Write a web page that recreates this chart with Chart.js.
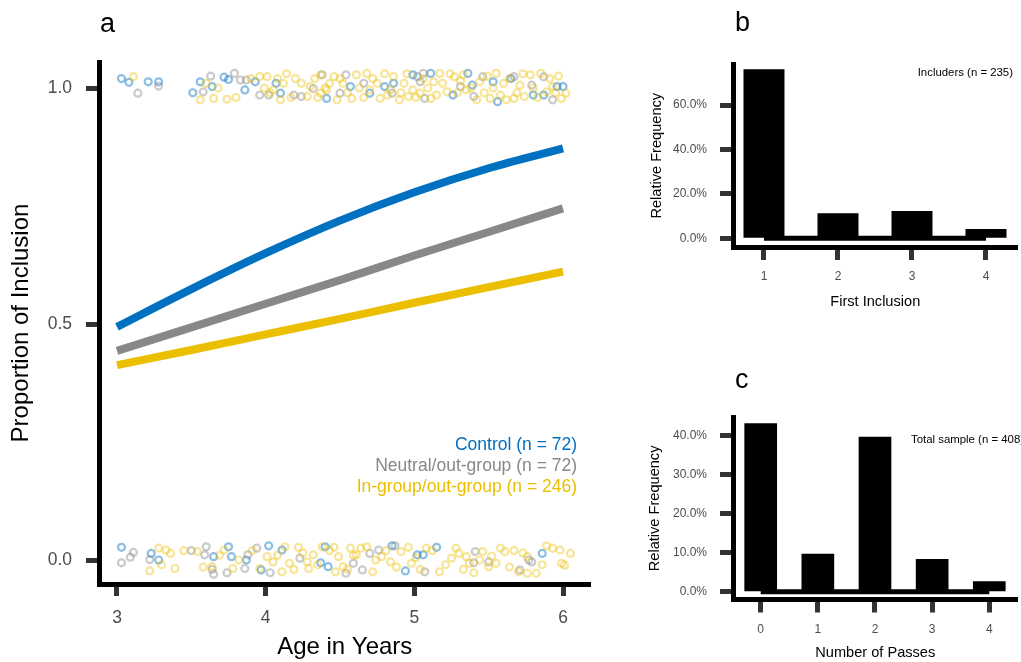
<!DOCTYPE html>
<html>
<head>
<meta charset="utf-8">
<script src="https://cdn.jsdelivr.net/npm/chart.js@4.4.0/dist/chart.umd.min.js"></script>
<style>
html, body { margin: 0; padding: 0; background: #fff; width: 1021px; height: 662px; overflow: hidden; }
canvas { position: absolute; }
</style>
</head>
<body>
<canvas id="panelA" width="610" height="662" style="left:0px;top:0px"></canvas>
<canvas id="panelB" width="391" height="315" style="left:630px;top:0px"></canvas>
<canvas id="panelC" width="391" height="307" style="left:630px;top:355px"></canvas>
<script>
// ---- panel a: fitted curves ----
const ages = [3, 3.5, 4, 4.5, 5, 5.5, 6];
const ctrlFit = [0.494, 0.574, 0.650, 0.719, 0.779, 0.830, 0.872];
const neutFit = [0.443, 0.493, 0.543, 0.593, 0.645, 0.695, 0.745];
const ingrFit = [0.413, 0.445, 0.478, 0.511, 0.545, 0.578, 0.611];

const ageTicks = [3, 4, 5, 6];
const propTicks = [0, 0.5, 1];
const groupNames = ["Control (n = 72)", "Neutral/out-group (n = 72)", "In-group/out-group (n = 246)"];

// raw responses (jittered), [age, value]
const ctrlDots = [
  [3.03,1.02],[3.08,1.012],[3.21,1.013],[3.28,1.013],[3.51,0.99],[3.56,1.013],[3.64,1.003],[3.72,1.023],
  [3.75,1.018],[3.86,0.996],[3.93,1.013],[4.07,1.01],[4.10,0.989],[4.41,0.978],[4.57,1.003],[4.70,0.989],
  [4.80,1.003],[4.86,1.01],[4.99,1.028],[5.11,1.031],[5.26,0.985],[5.36,1.031],[5.39,1.006],[5.53,1.013],
  [5.56,0.971],[5.65,1.02],[5.80,0.985],[5.87,0.985],[5.96,1.003],[6.00,1.003],
  [3.03,0.027],[3.23,0.014],[3.28,0.0],[3.65,0.007],[3.75,0.028],[3.77,0.007],[3.87,0.0],[3.97,-0.021],
  [4.02,0.03],[4.11,0.021],[4.37,-0.006],[4.40,0.028],[4.42,-0.014],[4.85,0.03],[4.94,-0.023],[5.02,0.011],
  [5.06,0.011],[5.15,0.027],[5.86,0.014]
];
const neutDots = [
  [3.14,0.989],[3.28,1.004],[3.58,0.992],[3.63,1.025],[3.79,1.031],[3.83,1.017],[3.87,1.017],[3.96,0.985],
  [4.02,0.985],[4.19,0.985],[4.24,0.982],[4.32,0.999],[4.38,1.028],[4.50,0.989],[4.54,1.028],[4.66,1.01],
  [4.85,0.989],[5.02,1.024],[5.04,1.013],[5.06,1.031],[5.07,0.978],[5.31,1.003],[5.40,0.982],[5.46,1.024],
  [5.67,1.024],[5.79,1.006],[5.87,1.024],[5.93,0.975],
  [3.03,-0.006],[3.09,0.006],[3.11,0.016],[3.22,0.001],[3.50,0.02],[3.59,0.011],[3.60,0.028],[3.64,-0.02],
  [3.65,-0.03],[3.74,-0.027],[3.86,-0.018],[3.88,0.011],[3.94,0.025],[4.03,-0.027],[4.23,0.004],[4.54,-0.028],
  [4.59,-0.007],[4.65,-0.021],[4.70,0.014],[4.76,0.021],[4.87,0.03],[5.07,-0.025],[5.40,-0.006],[5.41,0.018],
  [5.50,-0.004],[5.71,-0.021],[5.77,0.0],[5.79,-0.004]
];
const ingrDots = [
  [3.11,1.024],[3.56,0.975],[3.65,0.978],[3.74,0.976],[3.96,1.024],[4.01,1.024],[4.05,0.996],[4.10,0.975],
  [4.12,1.01],[4.20,1.02],[4.28,0.982],[4.30,1.003],[4.37,1.028],[4.37,0.989],[4.41,0.996],[4.46,1.024],
  [4.48,0.975],[4.52,1.01],[4.58,0.978],[4.61,1.028],[4.68,1.031],[4.70,0.996],[4.72,1.02],[4.77,0.978],
  [4.84,0.996],[4.86,1.024],[4.90,0.975],[4.96,0.982],[4.99,0.996],[5.04,0.989],[5.11,0.978],[5.13,1.013],
  [5.17,1.031],[5.22,0.992],[5.27,1.024],[5.33,1.028],[5.35,0.996],[5.42,0.975],[5.44,1.013],[5.51,0.978],
  [5.55,1.031],[5.60,1.01],[5.62,0.975],[5.67,0.978],[5.71,1.006],[5.74,0.982],[5.78,1.028],[5.85,1.031],
  [5.89,0.992],[5.93,1.003],[5.99,0.978],[6.02,0.989],
  [3.60,1.01],[3.68,1.0],[3.80,0.98],[3.90,1.02],[3.99,1.0],[4.03,0.99],[4.14,1.03],[4.17,0.98],
  [4.24,1.01],[4.33,1.02],[4.35,0.98],[4.43,1.01],[4.50,1.02],[4.55,0.99],[4.63,1.0],[4.66,0.98],
  [4.75,1.01],[4.80,1.03],[4.82,0.985],[4.93,1.01],[4.95,1.03],[5.01,0.98],[5.06,1.02],[5.09,1.0],
  [5.15,0.985],[5.19,1.01],[5.24,1.03],[5.29,0.99],[5.31,1.015],[5.38,1.0],[5.47,0.99],[5.49,1.025],
  [5.53,1.0],[5.58,0.985],[5.64,1.02],[5.69,0.99],[5.73,1.03],[5.80,1.0],[5.83,0.98],[5.91,1.02],
  [5.95,0.99],[5.97,1.025],[4.08,1.02],[4.40,1.0],[4.91,0.99],
  [3.22,-0.023],[3.28,0.025],[3.33,0.021],[3.36,0.014],[3.39,-0.018],[3.54,0.018],[3.64,-0.014],[3.72,0.021],
  [3.78,-0.018],[3.96,-0.018],[4.01,0.007],[4.05,-0.004],[4.11,-0.025],[4.13,0.028],[4.16,-0.007],[4.22,0.027],
  [4.28,-0.004],[4.29,-0.018],[4.32,0.011],[4.38,0.028],[4.46,0.027],[4.49,0.007],[4.52,-0.014],[4.57,0.025],
  [4.61,0.011],[4.68,0.028],[4.72,-0.025],[4.78,0.007],[4.84,-0.004],[4.91,0.018],[4.96,0.027],[4.98,-0.007],
  [5.08,0.025],[5.17,-0.025],[5.25,0.004],[5.30,0.014],[5.35,0.007],[5.37,-0.007],[5.40,-0.027],[5.46,0.018],
  [5.50,-0.014],[5.52,0.008],[5.55,-0.007],[5.61,0.018],[5.67,0.02],[5.70,-0.025],[5.76,-0.028],[5.76,0.007],
  [5.82,-0.028],[5.89,0.03],[5.98,0.021],[5.99,-0.007],[6.01,-0.011],[6.05,0.014],
  [3.30,-0.01],[3.45,0.02],[3.58,-0.015],[3.69,0.01],[3.82,0.0],[3.91,0.02],[4.08,0.01],[4.19,-0.02],
  [4.25,0.015],[4.35,-0.01],[4.43,0.02],[4.55,-0.02],[4.59,0.01],[4.64,0.025],[4.74,0.0],[4.81,0.02],
  [4.88,-0.015],[5.01,0.005],[5.12,0.02],[5.21,-0.01],[5.28,0.025],[5.33,-0.02],[5.44,0.0],[5.58,0.025],
  [5.64,-0.015],[5.73,0.015],[5.86,-0.01],[5.93,0.025],[4.47,-0.025],[5.04,-0.02]
];

// ---- panel b / c: histograms ----
const firstInclusionCats = [1, 2, 3, 4];
const firstInclusionPct = [76.1, 11.3, 12.3, 4.2];
const pctTicksB = [0, 20, 40, 60];

const passesCats = [0, 1, 2, 3, 4];
const passesPct = [43.2, 9.7, 39.7, 8.4, 2.7];
const pctTicksC = [0, 10, 20, 30, 40];

const FONT = "'Liberation Sans', Arial, Helvetica, sans-serif";
const BLUE = "#0070C0", GREY = "#888888", GOLD = "#EBBE00";

const textPlugin = {
  id: "panelText",
  afterDraw(chart, args, opts) {
    const ctx = chart.ctx;
    (opts.items || []).forEach(t => {
      ctx.save();
      ctx.font = t.font;
      ctx.fillStyle = t.color || "#000";
      ctx.textAlign = t.align || "left";
      ctx.textBaseline = t.baseline || "alphabetic";
      ctx.fillText(t.text, t.x, t.y);
      ctx.restore();
    });
  }
};

function setTicks(vals) {
  return s => { s.ticks = vals.map(v => ({ value: v })); };
}

function axisStyle(tl, tw) {
  return {
    grid: { display: true, drawOnChartArea: false, offset: false, tickLength: tl, tickWidth: tw, tickColor: "#333" },
    border: { display: true, color: "#000", width: 5 }
  };
}

const dots = (pts, color) => ({
  data: pts.map(p => ({ x: p[0], y: p[1] })),
  showLine: false,
  pointRadius: 3.5,
  pointBorderWidth: 2.2,
  pointBackgroundColor: "rgba(0,0,0,0)",
  pointBorderColor: color,
  pointHoverRadius: 3.5
});

const curve = (vals, color) => ({
  data: ages.map((a, i) => ({ x: a, y: vals[i] })),
  showLine: true,
  borderColor: color,
  borderWidth: 8,
  borderCapStyle: "butt",
  pointRadius: 0,
  cubicInterpolationMode: "monotone"
});

new Chart(document.getElementById("panelA"), {
  type: "scatter",
  data: {
    datasets: [
      dots(ingrDots, "rgba(235,190,0,0.40)"),
      dots(neutDots, "rgba(130,130,130,0.42)"),
      dots(ctrlDots, "rgba(0,112,192,0.45)"),
      curve(ingrFit, GOLD),
      curve(neutFit, GREY),
      curve(ctrlFit, BLUE)
    ]
  },
  options: {
    responsive: false,
    animation: false,
    layout: { padding: { top: 62, right: 20, left: 0, bottom: 0 } },
    plugins: {
      legend: { display: false },
      tooltip: { enabled: false },
      panelText: {
        items: [
          { text: "a", x: 100, y: 32, font: "27px " + FONT },
          { text: groupNames[0], x: 577, y: 445, align: "right", baseline: "middle", color: BLUE, font: "17.5px " + FONT },
          { text: groupNames[1], x: 577, y: 466, align: "right", baseline: "middle", color: GREY, font: "17.5px " + FONT },
          { text: groupNames[2], x: 577, y: 487, align: "right", baseline: "middle", color: GOLD, font: "17.5px " + FONT }
        ]
      }
    },
    scales: {
      x: {
        type: "linear",
        min: 2.8823, max: 6.1816,
        afterBuildTicks: setTicks(ageTicks),
        afterFit: s => { s.height = 78; },
        ticks: { font: { family: FONT, size: 17.5 }, color: "#4D4D4D", padding: 12, maxRotation: 0 },
        title: { display: true, text: "Age in Years", color: "#000", font: { family: FONT, size: 24 }, padding: { top: 0, bottom: 0 } },
        ...axisStyle(12, 5)
      },
      y: {
        type: "linear",
        min: -0.0508, max: 1.0551,
        afterBuildTicks: setTicks(propTicks),
        afterFit: s => { s.width = 99.5; },
        ticks: { font: { family: FONT, size: 17.5 }, color: "#4D4D4D", padding: 14, callback: v => v.toFixed(1) },
        title: { display: true, text: "Proportion of Inclusion", color: "#000", font: { family: FONT, size: 24 }, padding: { top: 7, bottom: 0 } },
        ...axisStyle(13.5, 5)
      }
    }
  },
  plugins: [textPlugin]
});

function histChart(id, cats, pct, ticks, opt) {
  return new Chart(document.getElementById(id), {
    type: "bar",
    data: {
      datasets: [
        {
          type: "bar",
          data: cats.map((c, i) => ({ x: c, y: pct[i] })),
          backgroundColor: "#000",
          borderWidth: 0,
          categoryPercentage: 1,
          barPercentage: opt.barFrac,
          order: 0
        },
        {
          type: "line",
          data: [{ x: cats[0], y: 0 }, { x: cats[cats.length - 1], y: 0 }],
          borderColor: "#000",
          borderWidth: 5,
          pointRadius: 0,
          order: 1
        }
      ]
    },
    options: {
      responsive: false,
      animation: false,
      layout: { padding: { top: opt.top, right: 4, left: 0, bottom: 0 } },
      plugins: {
        legend: { display: false },
        tooltip: { enabled: false },
        panelText: { items: opt.texts }
      },
      scales: {
        x: {
          type: "linear",
          offset: false,
          min: opt.xmin, max: opt.xmax,
          afterBuildTicks: setTicks(cats),
          afterFit: s => { s.height = opt.xh; },
          ticks: { font: { family: FONT, size: 12 }, color: "#4D4D4D", padding: opt.xpad, maxRotation: 0 },
          title: { display: true, text: opt.xtitle, color: "#000", font: { family: FONT, size: 14.6 }, padding: { top: 0, bottom: opt.xtb } },
          ...axisStyle(opt.xtl, 5)
        },
        y: {
          type: "linear",
          min: opt.ymin, max: opt.ymax,
          afterBuildTicks: setTicks(ticks),
          afterFit: s => { s.width = 103.5; },
          ticks: { font: { family: FONT, size: 12 }, color: "#4D4D4D", padding: 13, callback: v => v.toFixed(1) + "%" },
          title: { display: true, text: "Relative Frequency", color: "#000", font: { family: FONT, size: 14.6 }, padding: { top: opt.ytp, bottom: 0 } },
          ...axisStyle(13.5, 5)
        }
      }
    },
    plugins: [textPlugin]
  });
}

histChart("panelB", firstInclusionCats, firstInclusionPct, pctTicksB, {
  barFrac: 0.554, top: 64, xh: 67.5, xmin: 0.588, xmax: 4.419, ymin: -4.14, ymax: 78.5,
  xpad: 9.5, xtl: 12.5, xtb: 4.2, ytp: 18, xtitle: "First Inclusion",
  texts: [
    { text: "b", x: 105, y: 31, font: "27px " + FONT },
    { text: "Includers (n = 235)", x: 383, y: 73, align: "right", baseline: "middle", font: "11.4px " + FONT }
  ]
});

histChart("panelC", passesCats, passesPct, pctTicksC, {
  barFrac: 0.572, top: 62.3, xh: 62.5, xmin: -0.476, xmax: 4.485, ymin: -2.0, ymax: 44.7,
  xpad: 10.3, xtl: 13, xtb: 0.2, ytp: 16, xtitle: "Number of Passes",
  texts: [
    { text: "c", x: 105, y: 33, font: "27px " + FONT },
    { text: "Total sample (n = 408)", x: 281, y: 85, align: "left", baseline: "middle", font: "11.4px " + FONT }
  ]
});
</script>
</body>
</html>
